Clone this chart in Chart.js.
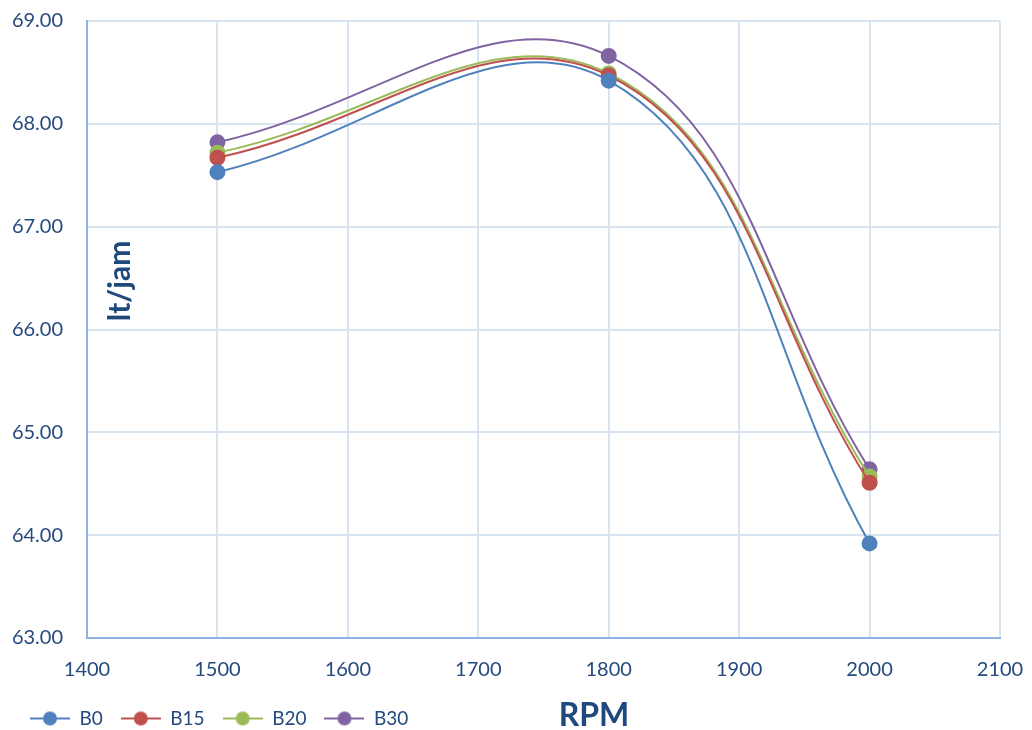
<!DOCTYPE html>
<html>
<head>
<meta charset="utf-8">
<script src="https://cdn.jsdelivr.net/npm/chart.js@4/dist/chart.umd.min.js"></script>
<style>
html,body{margin:0;padding:0;background:#fff;}
#wrap{position:relative;width:1032px;height:730px;}
</style>
</head>
<body>
<div id="wrap"><canvas id="c" width="1032" height="730"></canvas></div>
<script>
const rpm = [1500, 1800, 2000];
const seriesNames = ["B0", "B15", "B20", "B30"];
const b0  = [67.53, 68.42, 63.92];
const b15 = [67.67, 68.47, 64.51];
const b20 = [67.72, 68.49, 64.57];
const b30 = [67.82, 68.66, 64.64];
const colors = ["#4F81BD", "#C0504D", "#9BBB59", "#8064A2"];
const xTitle = "RPM";
const yTitle = "lt/jam";

const allSeries = [b0, b15, b20, b30];
const textColor = "#254A7E";
const fontFam = "Lato, 'Open Sans', 'Liberation Sans', sans-serif";

function legendIcon(color){
  const cv = document.createElement('canvas');
  cv.width = 40; cv.height = 18;
  const g = cv.getContext('2d');
  g.strokeStyle = color; g.lineWidth = 2;
  g.beginPath(); g.moveTo(0, 9); g.lineTo(40, 9); g.stroke();
  g.fillStyle = color;
  g.beginPath(); g.arc(20, 9, 7, 0, Math.PI*2); g.fill();
  return cv;
}

const datasets = seriesNames.map((n, i) => ({
  label: n,
  data: rpm.map((x, j) => ({x: x, y: allSeries[i][j]})),
  borderColor: colors[i],
  backgroundColor: colors[i],
  pointBackgroundColor: colors[i],
  pointBorderColor: colors[i],
  pointRadius: 7,
  pointHoverRadius: 7,
  borderWidth: 2,
  tension: 0.4,
  pointStyle: 'circle',
  legendIcon: legendIcon(colors[i])
}));

const textPlugin = {
  id: 'texts',
  afterDraw(chart){
    const ctx = chart.ctx;
    ctx.save();
    ctx.fillStyle = "#1F497D";
    ctx.font = "bold 32px " + fontFam;
    ctx.textAlign = "center";
    ctx.textBaseline = "middle";
    ctx.fillText(xTitle, 594, 716);
    ctx.translate(120, 281);
    ctx.rotate(-Math.PI/2);
    ctx.font = "bold 30px " + fontFam;
    ctx.fillText(yTitle, 0, 0);
    ctx.restore();
  }
};

new Chart(document.getElementById('c'), {
  type: 'line',
  data: { datasets: datasets },
  options: {
    responsive: false,
    animation: false,
    events: [],
    layout: { padding: { left: 12, right: 32, top: 21, bottom: -8 } },
    elements: { line: { capBezierPoints: false } },
    scales: {
      x: {
        type: 'linear',
        min: 1400, max: 2100,
        ticks: { stepSize: 100, color: textColor, font: { family: fontFam, size: 20 }, padding: 20, maxRotation: 0,
          callback: v => String(v) },
        grid: { color: "#D9E4F1", lineWidth: 2, drawTicks: false },
        border: { color: "#8EB4E3", width: 2 },
        afterFit(s){ s.height = 53; s.paddingLeft = 0; s.paddingRight = 0; }
      },
      y: {
        min: 63, max: 69,
        ticks: { stepSize: 1, color: textColor, font: { family: fontFam, size: 20 }, padding: 24,
          callback: v => Number(v).toFixed(2) },
        grid: { color: "#D9E4F1", lineWidth: 2, drawTicks: false },
        border: { color: "#8EB4E3", width: 2 },
        afterFit(s){ s.width = 75; s.paddingTop = 0; s.paddingBottom = 0; }
      }
    },
    plugins: {
      tooltip: { enabled: false },
      legend: {
        position: 'bottom',
        align: 'start',
        labels: {
          usePointStyle: true,
          pointStyleWidth: 40,
          boxHeight: 18,
          padding: 18,
          color: textColor,
          font: { family: fontFam, size: 19 },
          generateLabels(chart){
            return chart.data.datasets.map((d, i) => ({
              text: d.label,
              fillStyle: d.backgroundColor,
              strokeStyle: d.borderColor,
              lineWidth: 0,
              pointStyle: d.legendIcon,
              hidden: false,
              datasetIndex: i,
              fontColor: textColor
            }));
          }
        }
      }
    }
  },
  plugins: [textPlugin]
});
</script>
</body>
</html>
